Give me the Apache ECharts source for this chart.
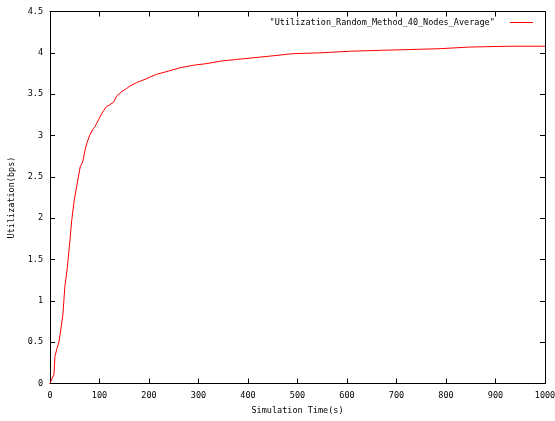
<!DOCTYPE html>
<html>
<head>
<meta charset="utf-8">
<script src="https://cdn.jsdelivr.net/npm/echarts@6/dist/echarts.min.js"></script>
<style>
  html, body { margin: 0; padding: 0; background: #fff; }
  #chart { width: 555px; height: 421px; }
</style>
</head>
<body>
<div id="chart"></div>
<script>
// Average utilization over simulation time, 40 nodes, random method
const seriesName = '"Utilization_Random_Method_40_Nodes_Average"';
const simTime = [0, 4, 8, 10, 14, 18, 22, 26, 30, 35, 39, 44, 49, 55, 61, 66, 70, 74, 80, 86,
  91, 98, 105, 114, 120, 128, 135, 145, 155, 162, 175, 192, 215, 240, 263, 290, 317, 345, 377,
  410, 444, 491, 545, 609, 667, 727, 788, 848, 929, 1000];
const utilization = [0, 0.06, 0.11, 0.33, 0.42, 0.5, 0.66, 0.83, 1.17, 1.40, 1.65, 1.98, 2.22,
  2.42, 2.62, 2.68, 2.80, 2.90, 3.00, 3.07, 3.11, 3.19, 3.27, 3.35, 3.37, 3.40, 3.48, 3.53, 3.57,
  3.60, 3.64, 3.68, 3.74, 3.78, 3.82, 3.85, 3.87, 3.90, 3.92, 3.94, 3.96, 3.99, 4.00, 4.02, 4.03,
  4.04, 4.05, 4.07, 4.08, 4.08];
const xTitle = 'Simulation Time(s)';
const yTitle = 'Utilization(bps)';

const font = 'DejaVu Sans Mono';
const fs = 8.5;
const frame = '#000';

const points = simTime.map((t, i) => [t, utilization[i]]);

const chart = echarts.init(document.getElementById('chart'), null, { renderer: 'canvas' });

const tick = { show: true, inside: true, length: 5, lineStyle: { color: frame, width: 1 } };
const line = { show: true, onZero: false, lineStyle: { color: frame, width: 1 } };

chart.setOption({
  animation: false,
  backgroundColor: '#fff',
  grid: { left: 50, right: 10, top: 11.5, bottom: 37.5, containLabel: false, outerBoundsMode: 'none' },
  legend: {
    show: true,
    right: 17,
    top: 13,
    align: 'right',
    icon: 'rect',
    itemWidth: 23,
    itemHeight: 1,
    formatter: n => n + '  ',
    textStyle: { fontFamily: font, fontSize: fs, color: '#000' },
    data: [seriesName]
  },
  xAxis: [
    {
      type: 'value', min: 0, max: 1000, interval: 100, position: 'bottom',
      name: xTitle, nameLocation: 'middle', nameGap: 23,
      nameTextStyle: { fontFamily: font, fontSize: fs, color: '#000' },
      axisLine: line, axisTick: tick,
      axisLabel: { fontFamily: font, fontSize: fs, color: '#000', margin: 8, formatter: v => String(v) },
      splitLine: { show: false }
    },
    {
      type: 'value', min: 0, max: 1000, interval: 100, position: 'top',
      axisLine: line, axisTick: tick, axisLabel: { show: false }, splitLine: { show: false }
    }
  ],
  yAxis: [
    {
      type: 'value', min: 0, max: 4.5, interval: 0.5, position: 'left',
      name: yTitle, nameLocation: 'middle', nameGap: 32, nameRotate: 90,
      nameTextStyle: { fontFamily: font, fontSize: fs, color: '#000' },
      axisLine: line, axisTick: tick,
      axisLabel: { fontFamily: font, fontSize: fs, color: '#000', margin: 7 },
      splitLine: { show: false }
    },
    {
      type: 'value', min: 0, max: 4.5, interval: 0.5, position: 'right',
      axisLine: line, axisTick: tick, axisLabel: { show: false }, splitLine: { show: false }
    }
  ],
  series: [
    {
      name: seriesName,
      type: 'line',
      xAxisIndex: 0,
      yAxisIndex: 0,
      data: points,
      showSymbol: false,
      symbol: 'none',
      lineStyle: { color: '#ff0000', width: 1 },
      itemStyle: { color: '#ff0000' }
    }
  ]
});
</script>
</body>
</html>
